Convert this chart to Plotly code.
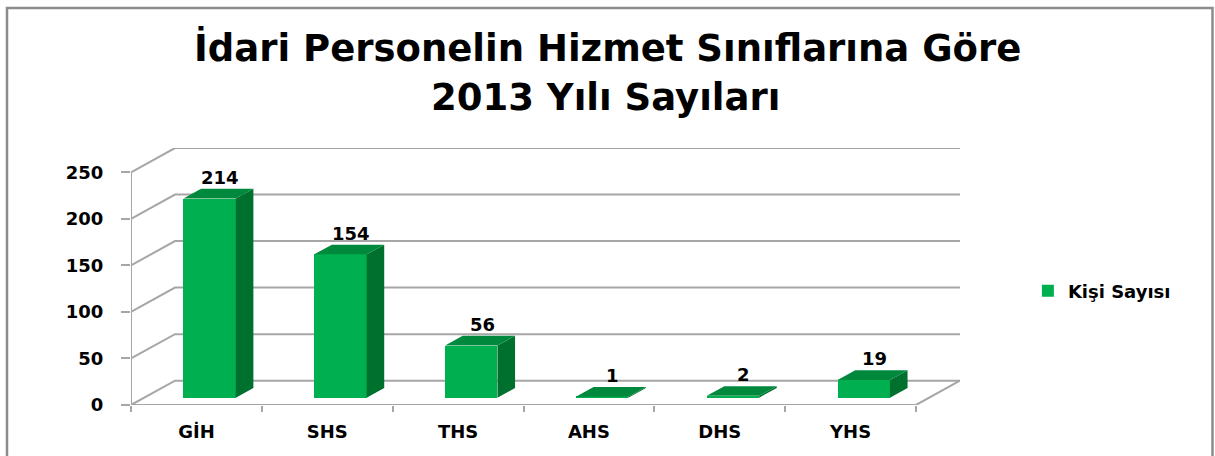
import plotly.graph_objects as go

# ---- data ----
categories = ["GİH", "SHS", "THS", "AHS", "DHS", "YHS"]
values = [214, 154, 56, 1, 2, 19]
series_name = "Kişi Sayısı"
y_ticks = [0, 50, 100, 150, 200, 250]
title_line1 = "İdari Personelin Hizmet Sınıflarına Göre"
title_line2 = "2013 Yılı Sayıları"

# ---- geometry / style ----
W, H = 1215, 456
ML, MR, MT, MB = 131, 255, 148, 51
DX = 0.3363      # depth offset in category units
DY = 26.1        # depth offset in value units
F0, FD, BW = 0.30, 0.40, 0.40
n = len(categories)
x_min, x_max = -0.5, n - 0.5 + DX
y_min, y_max = 0, 250 + DY

FRONT = "#00B050"
TOP = "#00893D"
SIDE = "#00702E"
GRID = "#A6A6A6"
FONT = "DejaVu Sans"

pw, ph = W - ML - MR, H - MT - MB
def px2paper_x(px):
    return (px - ML) / pw
def px2paper_y(py):
    return (H - MB - py) / ph

fig = go.Figure()

# front faces as real bars
xs = [i + F0 * DX for i in range(n)]
fig.add_trace(go.Bar(
    x=xs, y=values, base=[F0 * DY] * n, width=BW,
    marker=dict(color=FRONT, line=dict(width=0)),
    name=series_name, showlegend=True, hoverinfo="skip"))

# side faces and top faces
side_x, side_y, top_x, top_y = [], [], [], []
for i, v in enumerate(values):
    xl = xs[i] - BW / 2
    xr = xs[i] + BW / 2
    b = F0 * DY
    t = b + v
    ddx, ddy = FD * DX, FD * DY
    side_x += [xr, xr + ddx, xr + ddx, xr, xr, None]
    side_y += [b, b + ddy, t + ddy, t, b, None]
    top_x += [xl, xr, xr + ddx, xl + ddx, xl, None]
    top_y += [t, t, t + ddy, t + ddy, t, None]
fig.add_trace(go.Scatter(x=side_x, y=side_y, fill="toself", mode="lines",
                         line=dict(width=0, color=SIDE), fillcolor=SIDE,
                         showlegend=False, hoverinfo="skip"))
fig.add_trace(go.Scatter(x=top_x, y=top_y, fill="toself", mode="lines",
                         line=dict(width=0, color=TOP), fillcolor=TOP,
                         showlegend=False, hoverinfo="skip"))

# walls / gridlines (drawn below bars)
shapes = []
for v in y_ticks:
    shapes.append(dict(type="path", xref="x", yref="y", layer="below",
                       path=f"M{-0.5},{v} L{-0.5 + DX},{v + DY} L{n - 0.5 + DX},{v + DY}",
                       line=dict(color=GRID, width=2)))
# floor front and right edges
shapes.append(dict(type="path", xref="x", yref="y", layer="below",
                   path=f"M{-0.5},0 L{n - 0.5},0 L{n - 0.5 + DX},{DY}",
                   line=dict(color=GRID, width=2)))
# front vertical axis
shapes.append(dict(type="line", xref="x", yref="y", layer="below",
                   x0=-0.5, x1=-0.5, y0=0, y1=max(y_ticks),
                   line=dict(color=GRID, width=2)))
# outer chart border
shapes.append(dict(type="rect", xref="paper", yref="paper", layer="below",
                   x0=px2paper_x(7), x1=px2paper_x(1212.5),
                   y0=px2paper_y(470), y1=px2paper_y(8),
                   line=dict(color="#8C8C8C", width=2.5)))

annotations = []
for i, v in enumerate(values):
    annotations.append(dict(x=i + 0.5 * DX, y=v + F0 * DY + FD * DY, xref="x", yref="y",
                            text=str(v), showarrow=False, yanchor="bottom", yshift=-1,
                            xshift=2,
                            font=dict(family=FONT, size=18, color="black", weight="bold")))
annotations.append(dict(x=px2paper_x(607), y=px2paper_y(48), xref="paper", yref="paper",
                        text=title_line1, showarrow=False, yanchor="middle",
                        font=dict(family=FONT, size=37, color="black", weight="bold")))
annotations.append(dict(x=px2paper_x(605), y=px2paper_y(97), xref="paper", yref="paper",
                        text=title_line2, showarrow=False, yanchor="middle",
                        font=dict(family=FONT, size=37, color="black", weight="bold")))

fig.update_layout(
    width=W, height=H,
    margin=dict(l=ML, r=MR, t=MT, b=MB),
    paper_bgcolor="white", plot_bgcolor="white",
    shapes=shapes, annotations=annotations,
    bargap=0,
    legend=dict(xref="container", yref="container", x=0.846, y=1 - 291 / H,
                xanchor="left", yanchor="middle",
                font=dict(family=FONT, size=18, color="black", weight="bold")),
    xaxis=dict(range=[x_min, x_max], showgrid=False, zeroline=False, showline=False,
               tickvals=list(range(n)), ticktext=categories, ticks="",
               ticklabelstandoff=14,
               tickfont=dict(family=FONT, size=18, color="black", weight="bold"),
               minor=dict(tickvals=[i - 0.5 for i in range(n + 1)], ticks="outside",
                          ticklen=6, tickwidth=2, tickcolor=GRID, showgrid=False),
               fixedrange=True),
    yaxis=dict(range=[y_min, y_max], showgrid=False, zeroline=False, showline=False,
               tickvals=y_ticks, ticks="outside", ticklen=9, tickwidth=2, tickcolor=GRID,
               ticklabelstandoff=14,
               tickfont=dict(family=FONT, size=18, color="black", weight="bold"),
               fixedrange=True),
)

fig.write_html("out.html", config={"displayModeBar": False},
               post_script="document.body.style.margin='0';")
